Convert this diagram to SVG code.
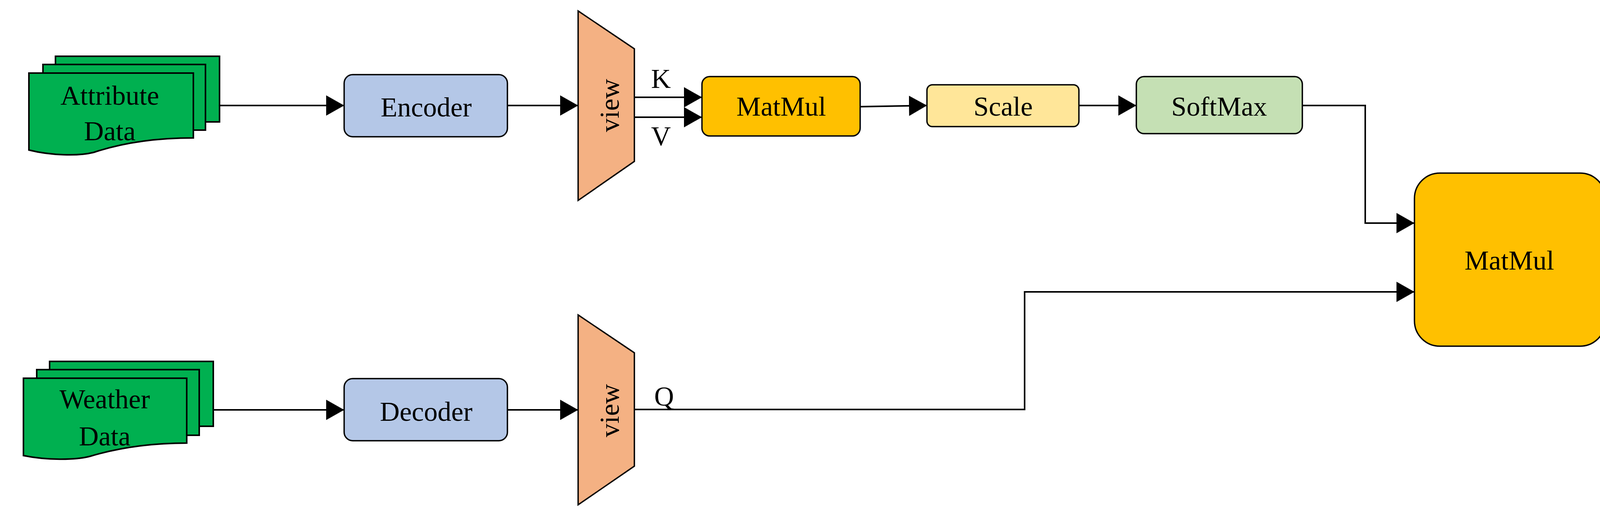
<svg xmlns="http://www.w3.org/2000/svg" width="4187" height="1336" viewBox="0 0 4187 1336">
<style>
text{font-family:"Liberation Serif","Times New Roman",serif;font-size:70px;fill:#000;text-anchor:middle}
.ln{fill:none;stroke:#000;stroke-width:4}
.pg{fill:#00b050;stroke:#000;stroke-width:4}
.box{stroke:#000;stroke-width:3.5}
</style>
<defs>
<marker id="ah" markerUnits="userSpaceOnUse" markerWidth="48" markerHeight="52" refX="46" refY="26" orient="auto">
<path d="M0,0 L46,26 L0,52 Z" fill="#000"/>
</marker>
</defs>
<g id="attr">
<rect class="pg" x="142" y="144" width="420" height="168"/>
<rect class="pg" x="110" y="165" width="416" height="168"/>
<path class="pg" d="M74,187 H495 V353 C380,353 300,370 240,390 C200,400 130,398 74,384 Z"/>
<text x="281" y="268">Attribute</text>
<text x="281" y="359">Data</text>
</g>
<g id="weather">
<rect class="pg" x="127" y="925" width="419" height="166"/>
<rect class="pg" x="94" y="946" width="416" height="168"/>
<path class="pg" d="M60,968 H478 V1134 C370,1134 290,1150 230,1168 C190,1178 120,1178 60,1166 Z"/>
<text x="268" y="1045">Weather</text>
<text x="268" y="1140">Data</text>
</g>
<g id="encoder"><rect class="box" x="881" y="191" width="418" height="159" rx="22" fill="#b4c7e7"/><text x="1091" y="298">Encoder</text></g>
<g id="decoder"><rect class="box" x="881" y="969" width="418" height="159" rx="22" fill="#b4c7e7"/><text x="1091" y="1077">Decoder</text></g>
<g id="view1"><polygon class="box" points="1480,28 1624,125 1624,413 1480,513" fill="#f4b183"/><text transform="translate(1584,270) rotate(-90)">view</text></g>
<g id="view2"><polygon class="box" points="1480,806 1624,903 1624,1193 1480,1292" fill="#f4b183"/><text transform="translate(1584,1051) rotate(-90)">view</text></g>
<g id="matmul1"><rect class="box" x="1797" y="196" width="405" height="152" rx="20" fill="#ffc000"/><text x="2000" y="296">MatMul</text></g>
<g id="scale"><rect class="box" x="2373" y="217" width="389" height="107" rx="14" fill="#ffe699"/><text x="2568" y="296">Scale</text></g>
<g id="softmax"><rect class="box" x="2909" y="196" width="425" height="146" rx="20" fill="#c5e0b4"/><text x="3121" y="296">SoftMax</text></g>
<g id="matmul2"><rect class="box" x="3621" y="443" width="489" height="443" rx="65" fill="#ffc000"/><text x="3864" y="690">MatMul</text></g>
<g id="connectors">
<line class="ln" x1="562" y1="270" x2="881" y2="270" marker-end="url(#ah)"/>
<line class="ln" x1="1299" y1="270" x2="1480" y2="270" marker-end="url(#ah)"/>
<line class="ln" x1="1624" y1="249" x2="1797" y2="249" marker-end="url(#ah)"/>
<line class="ln" x1="1624" y1="300" x2="1797" y2="300" marker-end="url(#ah)"/>
<line class="ln" x1="2202" y1="273" x2="2373" y2="270" marker-end="url(#ah)"/>
<line class="ln" x1="2762" y1="270" x2="2909" y2="270" marker-end="url(#ah)"/>
<polyline class="ln" points="3334,270 3495,270 3495,571 3621,571" marker-end="url(#ah)"/>
<line class="ln" x1="546" y1="1049" x2="881" y2="1049" marker-end="url(#ah)"/>
<line class="ln" x1="1299" y1="1049" x2="1480" y2="1049" marker-end="url(#ah)"/>
<polyline class="ln" points="1624,1048 2623,1048 2623,747 3621,747" marker-end="url(#ah)"/>
<text x="1692" y="225">K</text>
<text x="1692" y="372">V</text>
<text x="1700" y="1038">Q</text>
</g>
</svg>
